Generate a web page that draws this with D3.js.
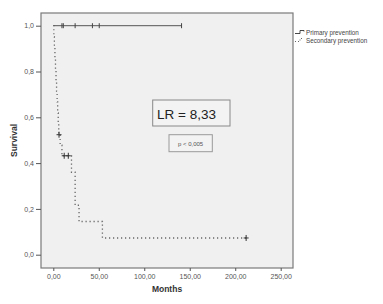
<!DOCTYPE html>
<meta charset="utf-8" />
<script src="https://d3js.org/d3.v7.min.js"></script>
<style>
  body { margin: 0; background: #fff; }
  text { font-family: "Liberation Sans", Arial, sans-serif; }
</style>
<body>
<div id="chart"></div>
<script>
  // Kaplan-Meier steps: [months, survival]
  const primarySteps = [[0, 1.0], [141, 1.0]];
  const primaryCensored = [9.5, 11, 24, 43, 50.5, 141];

  const secondarySteps = [
    [0, 1.0], [0.6, 0.952], [1.2, 0.905], [1.8, 0.857], [2.4, 0.81],
    [3, 0.762], [3.6, 0.714], [4.2, 0.667], [4.8, 0.619], [5.4, 0.571],
    [6, 0.524], [7.5, 0.478], [9.5, 0.432], [20, 0.36], [24, 0.216],
    [28.3, 0.145], [54, 0.073], [212, 0.073]
  ];
  const secondaryCensored = [[6.3, 0.524], [12, 0.432], [16.5, 0.432], [212, 0.073]];

  const xTicks = [0, 50, 100, 150, 200, 250];
  const yTicks = [0, 0.2, 0.4, 0.6, 0.8, 1.0];
  const legendLabels = ["Primary prevention", "Secondary prevention"];

  const width = 383, height = 304;
  const frame = { left: 41, right: 293, top: 13, bottom: 268 };

  const svg = d3.select("#chart").append("svg")
    .attr("width", width).attr("height", height);

  const x = d3.scaleLinear().domain([0, 250]).range([53.3, 280.7]);
  const y = d3.scaleLinear().domain([0, 1]).range([254.7, 25.7]);

  // plot area
  svg.append("rect")
    .attr("x", frame.left).attr("y", frame.top)
    .attr("width", frame.right - frame.left)
    .attr("height", frame.bottom - frame.top)
    .attr("fill", "#f0f0f0")
    .attr("stroke", "#7a7a7a")
    .attr("stroke-width", 1.2);

  const comma = (f) => (d) => d3.format(f)(d).replace(".", ",");

  // y axis
  const yAxis = svg.append("g")
    .attr("transform", `translate(${frame.left},0)`)
    .call(d3.axisLeft(y).tickValues(yTicks).tickFormat(comma(".1f")).tickSize(5).tickPadding(2));
  // x axis
  const xAxis = svg.append("g")
    .attr("transform", `translate(0,${frame.bottom})`)
    .call(d3.axisBottom(x).tickValues(xTicks).tickFormat(comma(".2f")).tickSize(3).tickPadding(3));
  [xAxis, yAxis].forEach((g) => {
    g.select(".domain").remove();
    g.selectAll("line").attr("stroke", "#555");
    g.selectAll("text").attr("fill", "#555").attr("font-size", 7);
  });

  // axis titles
  svg.append("text")
    .attr("x", (frame.left + frame.right) / 2).attr("y", 292)
    .attr("text-anchor", "middle")
    .attr("font-size", 8.5).attr("font-weight", "bold").attr("fill", "#333")
    .text("Months");
  svg.append("text")
    .attr("transform", `translate(17,${(frame.top + frame.bottom) / 2}) rotate(-90)`)
    .attr("text-anchor", "middle")
    .attr("font-size", 8.5).attr("font-weight", "bold").attr("fill", "#333")
    .text("Survival");

  const step = d3.line().x((d) => x(d[0])).y((d) => y(d[1])).curve(d3.curveStepAfter);

  // secondary prevention (dotted)
  svg.append("path")
    .attr("d", step(secondarySteps))
    .attr("fill", "none")
    .attr("stroke", "#666")
    .attr("stroke-width", 1.3)
    .attr("stroke-dasharray", "1.2,2.8");

  svg.selectAll(".cens2")
    .data(secondaryCensored).enter().append("line")
    .attr("x1", (d) => x(d[0])).attr("x2", (d) => x(d[0]))
    .attr("y1", (d) => y(d[1]) - 3).attr("y2", (d) => y(d[1]) + 3)
    .attr("stroke", "#333").attr("stroke-width", 1);
  svg.selectAll(".cens2h")
    .data(secondaryCensored).enter().append("line")
    .attr("x1", (d) => x(d[0]) - 2.5).attr("x2", (d) => x(d[0]) + 2.5)
    .attr("y1", (d) => y(d[1])).attr("y2", (d) => y(d[1]))
    .attr("stroke", "#333").attr("stroke-width", 1);

  // primary prevention (solid)
  svg.append("path")
    .attr("d", step(primarySteps))
    .attr("fill", "none")
    .attr("stroke", "#555")
    .attr("stroke-width", 1);

  svg.selectAll(".cens1")
    .data(primaryCensored).enter().append("line")
    .attr("x1", (d) => x(d)).attr("x2", (d) => x(d))
    .attr("y1", y(1) - 2.5).attr("y2", y(1) + 2.5)
    .attr("stroke", "#444").attr("stroke-width", 1);

  // annotation boxes
  svg.append("rect")
    .attr("x", 152.7).attr("y", 100).attr("width", 77.3).attr("height", 26)
    .attr("fill", "#f3f3f3").attr("stroke", "#888").attr("stroke-width", 1);
  svg.append("text")
    .attr("x", 157).attr("y", 118.5)
    .attr("font-family", "Open Sans, sans-serif")
    .attr("font-size", 13.5).attr("fill", "#222")
    .text("LR = 8,33");

  svg.append("rect")
    .attr("x", 169).attr("y", 134.7).attr("width", 43.3).attr("height", 17)
    .attr("fill", "#f3f3f3").attr("stroke", "#999").attr("stroke-width", 1);
  svg.append("text")
    .attr("x", 190.6).attr("y", 145.7)
    .attr("text-anchor", "middle")
    .attr("font-size", 6).attr("fill", "#555")
    .text("p < 0,005");

  // legend
  const leg = svg.append("g");
  leg.append("path")
    .attr("d", "M295,33.5 H300 V30.5 H304 V31.5")
    .attr("fill", "none").attr("stroke", "#333").attr("stroke-width", 0.9);
  leg.append("path")
    .attr("d", "M295,41.5 H300 V38.5 H304")
    .attr("fill", "none").attr("stroke", "#666").attr("stroke-width", 1)
    .attr("stroke-dasharray", "1,2");
  leg.selectAll("text")
    .data(legendLabels).enter().append("text")
    .attr("x", 306).attr("y", (d, i) => 34.5 + i * 8)
    .attr("font-size", 6.3).attr("fill", "#444")
    .text((d) => d);
</script>
</body>
